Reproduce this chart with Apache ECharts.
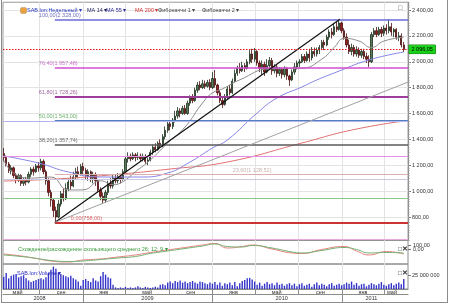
<!DOCTYPE html>
<html><head><meta charset="utf-8">
<script src="https://cdn.jsdelivr.net/npm/echarts@6/dist/echarts.min.js"></script>
<style>
html,body{margin:0;padding:0;background:#fff;}
#wrap{position:relative;width:450px;height:305px;}
#c{position:absolute;left:0;top:0;width:450px;height:305px;}
#frame{position:absolute;left:1px;top:0;width:447px;height:303px;border:1px solid #8c8c8c;border-top:none;box-sizing:border-box;pointer-events:none;}
</style></head><body>
<div id="wrap"><div id="c"></div><div id="frame"></div></div>
<script>
// ---------------- data ----------------
const startFriday = [2008, 5, 23];           // first weekly candle
// weekly candles: [open, close, low, high]
const candles = [
[1290,1260,1230,1333],[1260,1210,1190,1275],[1210,1160,1140,1225],[1160,1180,1130,1200],[1180,1120,1100,1190],
[1120,1090,1060,1140],[1090,1120,1070,1135],[1120,1060,1040,1130],[1060,1090,1040,1105],[1090,1070,1045,1110],
[1070,1130,1060,1150],[1130,1170,1110,1185],[1170,1150,1120,1190],[1150,1195,1140,1210],[1195,1180,1150,1225],
[1180,1230,1160,1250],[1230,1150,1130,1245],[1150,1080,1050,1165],[1080,990,960,1100],[990,930,880,1010],
[930,850,800,945],[850,800,758,880],
[800,900,790,930],[900,980,880,1000],[980,940,920,1020],[940,1020,930,1060],[1020,1070,1000,1100],
[1070,1040,1010,1120],[1040,1110,1030,1150],[1110,1150,1090,1180],[1150,1130,1100,1190],[1130,1190,1120,1210],
[1190,1160,1130,1220],[1160,1120,1090,1180],[1120,1150,1080,1170],[1150,1100,1070,1160],[1100,1130,1060,1150],
[1130,1080,1040,1145],[1080,1010,990,1090],[1010,960,930,1030],[960,930,908,990],[930,990,910,1010],
[990,1060,970,1080],[1060,1040,1020,1100],[1040,1100,1020,1130],[1100,1080,1060,1130],[1080,1110,1060,1140],
[1110,1090,1060,1130],[1090,1150,1080,1170],
[1150,1250,1140,1270],[1250,1270,1220,1300],[1270,1250,1230,1290],[1250,1280,1240,1300],[1280,1260,1230,1295],
[1260,1270,1240,1300],[1270,1250,1230,1290],[1250,1270,1230,1290],[1270,1230,1210,1285],[1230,1240,1200,1260],
[1240,1300,1230,1320],[1300,1340,1280,1360],[1340,1320,1300,1370],[1320,1370,1310,1385],[1370,1350,1330,1400],
[1350,1420,1340,1440],[1420,1470,1400,1500],[1470,1520,1450,1550],[1520,1500,1470,1540],[1500,1550,1480,1565],
[1550,1580,1530,1620],[1580,1620,1560,1650],[1620,1600,1570,1640],[1600,1640,1590,1660],[1640,1600,1590,1666],
[1600,1680,1590,1700],[1680,1720,1660,1740],[1720,1700,1680,1750],[1700,1780,1690,1800],[1780,1820,1760,1843],
[1820,1800,1780,1850],[1800,1830,1790,1860],[1830,1810,1790,1855],[1810,1840,1800,1860],[1840,1800,1780,1865],
[1800,1870,1790,1920],[1870,1820,1800,1936],[1820,1760,1740,1830],[1760,1700,1680,1780],[1700,1670,1643,1720],
[1670,1730,1660,1750],[1730,1790,1710,1810],[1790,1760,1740,1820],[1760,1850,1750,1870],[1850,1910,1840,1940],
[1910,1950,1890,1970],[1950,1930,1910,1990],[1930,1970,1920,2000],[1970,1950,1920,1990],[1950,2000,1940,2020],
[2000,2060,1980,2090],[2060,2020,1990,2100],[2020,2080,2000,2106],[2080,1990,1970,2090],[1990,1950,1920,2010],
[1950,1980,1900,2010],[1980,1920,1890,2000],[1920,1970,1910,2020],[1970,2010,1950,2037],[2010,1930,1900,2030],
[1930,1960,1910,1980],[1960,1910,1880,1975],[1910,1940,1890,1960],[1940,1900,1870,1955],[1900,1950,1880,1965],
[1950,1890,1860,1960],[1890,1860,1813,1900],[1860,1920,1850,1940],[1920,1960,1900,1990],[1960,1990,1940,2010],
[1990,2000,1960,2020],[2000,2040,1990,2060],
[2040,2010,1990,2060],[2010,2060,2000,2080],[2060,2030,2000,2100],[2030,2080,2010,2114],[2080,2060,2040,2110],
[2060,2090,2040,2110],[2090,2110,2060,2130],[2110,2150,2090,2168],[2150,2130,2090,2170],[2130,2190,2120,2210],
[2190,2230,2170,2250],[2230,2210,2180,2260],[2210,2270,2200,2300],[2270,2250,2230,2310],[2250,2300,2240,2328],
[2300,2240,2220,2310],[2240,2190,2170,2260],[2190,2130,2110,2220],[2130,2080,2060,2170],[2080,2110,2050,2140],
[2110,2060,2040,2130],[2060,2090,2040,2120],[2090,2050,2030,2110],[2050,2080,2030,2100],[2080,2040,2020,2100],
[2040,2020,1990,2070],[2020,2000,1960,2050],[2000,2210,1990,2230],[2210,2240,2190,2260],[2240,2210,2190,2269],
[2210,2250,2200,2270],[2250,2220,2190,2270],[2220,2260,2200,2280],[2260,2240,2210,2290],[2240,2270,2220,2330],
[2270,2230,2200,2300],[2230,2250,2190,2260],[2250,2190,2170,2260],[2190,2200,2160,2230],[2200,2130,2110,2220],
[2130,2096.05,2075,2153]
];
// weekly volume, millions
const volumeM = [
23,30,20,25,27,28,22,24,26,20,16,13,
15,17,19,20,18,22,
30,36,42,38,31,
28,26,24,22,25,20,18,14,6,
17,19,15,13,20,16,14,
24,32,27,22,20,8,
3,2,3,2,4,2,3,2,3,5,3,2,4,3,2,3,4,3,
8,9,7,
12,14,11,15,13,16,12,14,11,13,15,12,10,14,13,11,9,12,
10,13,8,12,6,11,
9,12,7,13,5,11,15,17,20,21,18,14,
8,12,6,10,13,9,11,7,12,8,10,6,9,11,
7,10,5,9,11,6,8,10,4,9,12,7,10,8,5,9,11,6,8,10,
7,9,12,10,14,8,11,6,9,10,5,8,
11,9,7,10,13,8,6,9,11,7,10,12,9,19
];
// moving averages (week index, value)
const ma14Weeks = [0,4,11,19,26,32,39,44,47,53,59,66,73,80,84,88,95,107,120,128,133,137,143,148,153,161];
const ma14 = [1241,1140,1101,1109,1009,1010,1080,1050,1063,1150,1241,1372,1496,1681,1759,1790,1860,1945,1950,2020,2110,2180,2160,2110,2160,2190];
const ma55Weeks = [0,14,26,39,55,66,75,84,90,102,110,120,126,133,147,161];
const ma55 = [1272,1217,1148,1109,1109,1140,1225,1333,1395,1604,1720,1805,1859,1913,2014,2075];
const ma200Weeks = [0,21,43,67,90,120,140,161];
const ma200 = [1078,1094,1125,1171,1225,1372,1472,1542];
// MACD pane (week index, value)
const macdWeeks = [0,7,12,19,26,32,39,46,53,59,66,73,80,85,90,96,100,108,116,120,128,137,142,147,154,161];
const macdLine = [-107,-157,-207,-282,-307,-257,-232,-182,-132,-70,-7,55,117,155,42,80,117,17,-82,-95,5,80,-32,-132,-45,-107];
const signalLine = [-132,-170,-207,-270,-295,-282,-245,-207,-170,-95,-32,30,92,142,80,67,105,42,-57,-82,-20,55,5,-82,-70,-82];
// Fibonacci 1
const fibLevels = [100, 76.4, 61.8, 50, 38.2, 23.6, 0];
const fibPrices = [2328, 1957.48, 1728.26, 1543, 1357.74, 1128.52, 758];
const fibLabelDates = ['2008-08-30','2008-08-30','2008-08-30','2008-08-30','2008-08-30','2010-02-27','2008-11-28'];
const fibStartDate = '2008-10-14';
// Fibonacci 2 (full width)
const fib2Prices = [1543, 1266, 1091, 945, 628];
const lastPrice = 2096.05;
const trendBlack = [['2008-10-14', 758], ['2010-12-26', 2328]];
const trendGray = [['2008-10-14', 758], ['2011-07-06', 1843]];
// axes
const xMinDate = '2008-05-21', xMaxDate = '2011-07-06';
const gridDates = ['2008-09-01','2009-01-01','2009-05-01','2009-09-01','2010-01-01','2010-05-01','2010-09-01','2011-01-01','2011-05-01'];
const monthLabelDates = ['2008-07-01','2008-11-01','2009-03-01','2009-07-01','2009-11-01','2010-03-01','2010-07-01','2010-11-01','2011-03-01','2011-05-22'];
const monthLabelTexts = ['май','сен','янв','май','сен','янв','май','сен','янв','май'];
const yearTickDates = ['2009-01-01','2010-01-01','2011-01-01'];
const yearLabelDates = ['2008-09-01','2009-07-02','2010-07-15','2011-03-25'];
const yearLabelTexts = ['2008','2009','2010','2011'];
const priceTicks = [800,1000,1200,1400,1600,1800,2000,2200,2400];
const macdTicks = [100, 0];
const volTicks = [25];
const volTickLabels = ['25 000 000'];

// ---------------- helpers ----------------
function ts(s){ const p = s.split('-').map(Number); return new Date(p[0], p[1]-1, p[2]).getTime(); }
function fmtNum(v, d){
  const neg = v < 0; const s = Math.abs(v).toFixed(d); const parts = s.split('.');
  const ip = parts[0].replace(/\B(?=(\d{3})+(?!\d))/g, ' ');
  return (neg ? '-' : '') + ip + (parts[1] !== undefined ? ',' + parts[1] : '');
}
const weekDates = candles.map((c, i) => new Date(startFriday[0], startFriday[1]-1, startFriday[2] + 7*i).getTime());
const xMin = ts(xMinDate), xMax = ts(xMaxDate);
const gridTs = gridDates.map(ts);
const monthTs = monthLabelDates.map(ts);
const yearTickTs = yearTickDates.map(ts);
const yearTs = yearLabelDates.map(ts);
const FF = 'Liberation Sans, Arial, sans-serif';
const FS = 5.5;

const fibColors = ['#6b6bd6','#d24fd2','#9b3f9b','#4f7fbf','#5a5a5a','#dcb0b0','#cc3333'];
const fibWidths = [1.5,1.5,2,2,1.5,1,2];
const fibLabelColors = ['#4848b0','#c050c0','#884088','#3e9e3e','#444444','#b89a9a','#d04040'];
const fib2Colors = ['#b4b4f0','#e48ee4','#c8c8e0','#8cc88c','#e8a8d8'];

const fibMarkData = [];
fibPrices.forEach((p, i) => {
  fibMarkData.push([{coord:[ts(fibStartDate), p], lineStyle:{color:fibColors[i], width:fibWidths[i], type:'solid'}}, {coord:[xMax, p]}]);
});
fib2Prices.forEach((p, i) => {
  fibMarkData.push({yAxis: p, lineStyle:{color:fib2Colors[i], width:1, type:'solid'}});
});

const fibLabelData = fibPrices.map((p, i) => ({
  value: [ts(fibLabelDates[i]), p],
  label: {color: fibLabelColors[i]},
  name: fmtNum(fibLevels[i], 2) + '(' + fmtNum(p, 2) + ')'
}));

function pts(weeks, vals){ return weeks.map((w, i) => [weekDates[w], vals[i]]); }

const chart = echarts.init(document.getElementById('c'), null, {renderer:'canvas'});
const xBase = (gi) => ({
  type:'value', gridIndex: gi, min: xMin, max: xMax, show: true,
  axisLine:{show:false}, axisLabel:{show:false},
  axisTick:{show:false, customValues: gridTs},
  splitLine:{show:true, lineStyle:{color:'#e3e3e3', width:1}}
});
const titleItem = (text, left, top, color) => ({text, left, top, textStyle:{fontSize:FS, fontWeight:'normal', color, fontFamily:FF}});

chart.setOption({
  animation: false,
  textStyle: {fontFamily: FF},
  title: [
    {text:'{ic| }', left:16, top:3, textStyle:{rich:{ic:{width:5, height:5, backgroundColor:'#e9a23b', borderColor:'#a8661a', borderWidth:0.5}}}},
    titleItem('SAB.lon:Недельный ▾', 22, 2.5, '#2a3cbf'),
    titleItem('MA 14 ▾', 82, 2.5, '#1e1e5a'),
    titleItem('MA 55 ▾', 101, 2.5, '#2a2a9a'),
    titleItem('MA 200 ▾', 130, 2.5, '#d03030'),
    titleItem('Фибоначчи 1 ▾', 153, 2.5, '#444444'),
    titleItem('Фибоначчи 2 ▾', 197, 2.5, '#444444'),
    titleItem('Схождение/расхождение скользящего среднего 26; 12; 9 ▾', 13, 241.5, '#3a9a3a'),
    titleItem('SAB.lon:Volume ▾', 12, 265.5, '#2a2ac0'),
    {text:'□', left:393, top:0, textStyle:{fontSize:7, fontWeight:'normal', color:'#555'}},
    {text:'□✕', left:393, top:240.5, textStyle:{fontSize:6.5, fontWeight:'bold', color:'#333'}},
    {text:'□✕', left:393, top:264.5, textStyle:{fontSize:6.5, fontWeight:'bold', color:'#333'}}
  ],
  grid: [
    {left:3, right:42, top:2.24, bottom:305-240.29, show:true, borderColor:'#9a9a9a', borderWidth:1},
    {left:3, right:42, top:240.29, height:23.71, show:true, borderColor:'#8c8c8c', borderWidth:1},
    {left:3, right:42, top:264, height:25, show:true, borderColor:'#8c8c8c', borderWidth:1}
  ],
  xAxis: [
    xBase(0), xBase(1),
    Object.assign(xBase(2), {
      axisLine:{show:true, lineStyle:{color:'#8c8c8c'}},
      axisTick:{show:true, inside:false, length:5, customValues: gridTs, lineStyle:{color:'#8c8c8c'}},
      axisLabel:{show:true, customValues: monthTs, margin:0.5, fontSize:FS, color:'#333', hideOverlap:false,
        formatter: v => { const i = monthTs.indexOf(v); return i >= 0 ? monthLabelTexts[i] : ''; }}
    }),
    {type:'value', gridIndex:2, min:xMin, max:xMax, position:'bottom', offset:5,
      axisLine:{show:true, lineStyle:{color:'#8c8c8c'}},
      axisTick:{show:true, inside:false, length:8, customValues: yearTickTs, lineStyle:{color:'#8c8c8c'}},
      axisLabel:{show:true, customValues: yearTs, margin:1.5, fontSize:FS, color:'#333', hideOverlap:false,
        formatter: v => { const i = yearTs.indexOf(v); return i >= 0 ? yearLabelTexts[i] : ''; }},
      splitLine:{show:false}}
  ],
  yAxis: [
    {type:'value', gridIndex:0, position:'right', min:620, max:2460,
      axisLine:{show:true, lineStyle:{color:'#8c8c8c'}},
      axisTick:{show:true, length:3, customValues: priceTicks, lineStyle:{color:'#777'}},
      axisLabel:{customValues: priceTicks, fontSize:FS, color:'#333', margin:4, formatter: v => fmtNum(v, 2)},
      splitLine:{show:true, lineStyle:{color:'#e3e3e3'}}},
    {type:'value', gridIndex:0, position:'right', min:620, max:2460, interval:20,
      axisLine:{show:false}, axisLabel:{show:false}, splitLine:{show:false},
      axisTick:{show:true, length:1.5, lineStyle:{color:'#999'}}},
    {type:'value', gridIndex:1, position:'right', min:-357.5, max:235,
      axisLine:{show:false}, axisLabel:{show:false}, splitLine:{show:false},
      axisTick:{show:true, length:3, customValues: macdTicks, lineStyle:{color:'#777'}}},
    {type:'value', gridIndex:2, position:'right', min:0, max:47,
      axisLine:{show:false},
      axisTick:{show:true, length:3, customValues: volTicks, lineStyle:{color:'#777'}},
      axisLabel:{customValues: volTicks, fontSize:FS, color:'#333', margin:4,
        formatter: v => { const i = volTicks.indexOf(v); return i >= 0 ? volTickLabels[i] : ''; }},
      splitLine:{show:false}}
  ],
  series: [
    {name:'fib', type:'line', xAxisIndex:0, yAxisIndex:0, data:[], z:1, silent:true,
      markLine:{silent:true, symbol:['none','none'], label:{show:false}, animation:false, data: fibMarkData}},
    {name:'price', type:'candlestick', xAxisIndex:0, yAxisIndex:0, z:3, barWidth:1.8,
      encode:{x:0, y:[1,2,3,4]},
      data: candles.map((c, i) => [weekDates[i], c[0], c[1], c[2], c[3]]),
      itemStyle:{color:'#587a58', color0:'#931c1c', borderColor:'#1c2e1c', borderColor0:'#4a0e0e', borderWidth:0.8}},
    {name:'MA 200', type:'line', xAxisIndex:0, yAxisIndex:0, z:4, smooth:true, showSymbol:false, data: pts(ma200Weeks, ma200), lineStyle:{color:'#e07070', width:1}},
    {name:'MA 55', type:'line', xAxisIndex:0, yAxisIndex:0, z:4, smooth:true, showSymbol:false, data: pts(ma55Weeks, ma55), lineStyle:{color:'#8484e8', width:1}},
    {name:'MA 14', type:'line', xAxisIndex:0, yAxisIndex:0, z:4, smooth:true, showSymbol:false, data: pts(ma14Weeks, ma14), lineStyle:{color:'#8a8a8a', width:1}},
    {name:'trend', type:'line', xAxisIndex:0, yAxisIndex:0, data:[], z:5, silent:true,
      markLine:{silent:true, symbol:['none','none'], animation:false,
        data:[
          [{coord:[ts(trendBlack[0][0]), trendBlack[0][1]], lineStyle:{color:'#111', width:1.2, type:'solid'}, label:{show:false}}, {coord:[ts(trendBlack[1][0]), trendBlack[1][1]]}],
          [{coord:[ts(trendGray[0][0]), trendGray[0][1]], lineStyle:{color:'#a0a0a0', width:1, type:'solid'}, label:{show:false}}, {coord:[ts(trendGray[1][0]), trendGray[1][1]]}],
          {yAxis:lastPrice, lineStyle:{color:'#e01010', width:1, type:[1.5,1.5]},
            label:{show:true, position:'end', distance:1, formatter: fmtNum(lastPrice, 2), fontSize:FS, color:'#000',
              backgroundColor:'#19d119', borderColor:'#0a6a0a', borderWidth:0.5, padding:[1.5,2.5,1,2.5]}}
        ]}},
    {name:'fibLabels', type:'scatter', xAxisIndex:0, yAxisIndex:0, symbolSize:0, z:6, silent:true,
      data: fibLabelData,
      label:{show:true, position:'top', align:'left', distance:1, fontSize:FS, formatter: p => p.name}},
    {name:'MACD', type:'line', xAxisIndex:1, yAxisIndex:2, smooth:true, showSymbol:false, data: pts(macdWeeks, macdLine), lineStyle:{color:'#e88080', width:1},
      markLine:{silent:true, symbol:['none','none'], animation:false,
        lineStyle:{color:'rgba(0,0,0,0)', width:0, type:'solid'},
        label:{show:true, position:'end', distance:5, fontSize:FS, color:'#333', opacity:1, formatter: p => fmtNum(p.value, 2)},
        data: macdTicks.map(v => ({yAxis: v}))}},
    {name:'Signal', type:'line', xAxisIndex:1, yAxisIndex:2, smooth:true, showSymbol:false, data: pts(macdWeeks, signalLine), lineStyle:{color:'#70b070', width:1}},
    {name:'Volume', type:'bar', xAxisIndex:2, yAxisIndex:3, barWidth:1.4, data: volumeM.map((v, i) => [weekDates[i], v]), itemStyle:{color:'#3434c8'}}
  ]
});
</script>
</body></html>
